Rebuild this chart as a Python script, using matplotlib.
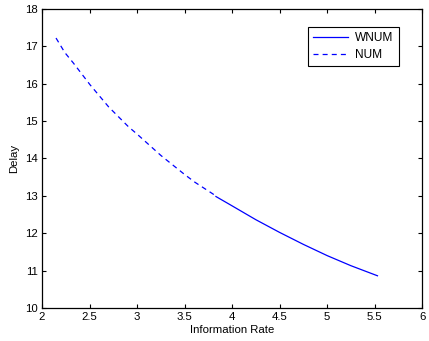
import matplotlib
matplotlib.use("Agg")
import matplotlib.pyplot as plt

plt.rcParams["font.family"] = ["Liberation Sans", "DejaVu Sans"]

# values
num_rate = [2.147, 2.24, 2.33, 2.505, 2.7, 2.908, 3.0, 3.25, 3.5, 3.61, 3.84]
num_delay = [17.22, 16.83, 16.55, 15.97, 15.38, 14.85, 14.65, 14.08, 13.57, 13.36, 12.98]
wnum_rate = [3.83, 3.98, 4.25, 4.5, 4.75, 5.0, 5.25, 5.53]
wnum_delay = [12.98, 12.76, 12.36, 12.02, 11.70, 11.40, 11.13, 10.86]

def main():
    fig = plt.figure(figsize=(4.29, 3.41), dpi=100)
    ax = fig.add_axes([0.098, 0.097, 0.886, 0.877])

    ax.plot(wnum_rate, wnum_delay, color="#0000ff", lw=0.9, label="WNUM")
    ax.plot(num_rate, num_delay, color="#0000ff", lw=0.9, ls=(0, (4, 3.3)), label="NUM")

    ax.set_xlim(2, 6)
    ax.set_ylim(10, 18)
    ax.set_xticks([2, 2.5, 3, 3.5, 4, 4.5, 5, 5.5, 6])
    ax.set_xticklabels(["2", "2.5", "3", "3.5", "4", "4.5", "5", "5.5", "6"])
    ax.set_yticks(range(10, 19))
    ax.tick_params(direction="in", top=True, right=True, labelsize=8.2, length=3, width=0.8, pad=3)
    for s in ax.spines.values():
        s.set_linewidth(0.9)

    ax.set_xlabel("Information Rate", fontsize=8.2, labelpad=2)
    ax.set_ylabel("Delay", fontsize=8.2, labelpad=4)

    leg = ax.legend(loc="upper right", bbox_to_anchor=(0.939, 0.94), borderaxespad=0,
                    fontsize=8.6, fancybox=False, framealpha=1, edgecolor="black",
                    handlelength=2.9, handletextpad=0.6, borderpad=0.45, labelspacing=0.4)
    leg.get_frame().set_linewidth(0.8)

    fig.savefig("out.png", dpi=100)

if __name__ == "__main__":
    main()
